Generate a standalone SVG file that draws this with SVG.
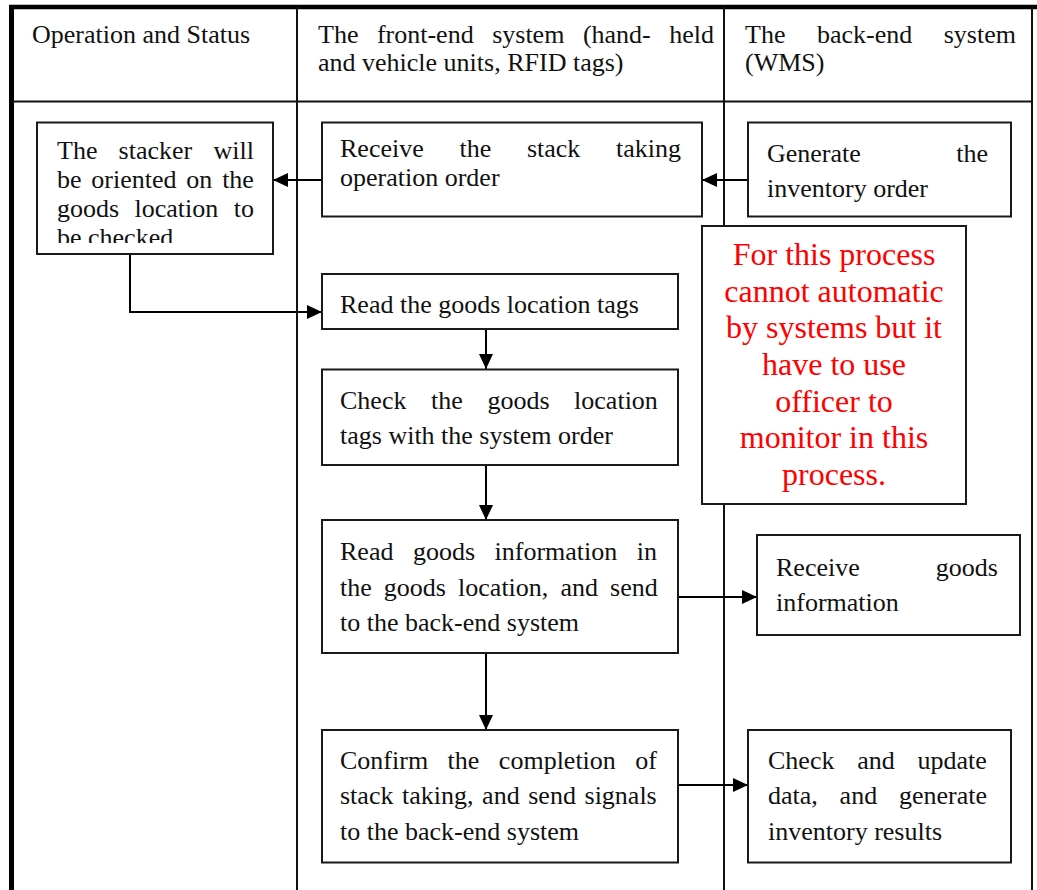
<svg xmlns="http://www.w3.org/2000/svg" width="1037" height="890" viewBox="0 0 1037 890">
  <style>
    .grid { stroke: #111; stroke-width: 2; fill: none; }
    .box { fill: #fff; stroke: #1a1a1a; stroke-width: 2; }
    .t { font-family: "Liberation Serif", "Times New Roman", serif; font-size: 26px; fill: #111; }
    .note { font-family: "Liberation Serif", "Times New Roman", serif; font-size: 32px; fill: #ff0000; text-anchor: middle; }
    .link { stroke: #000; stroke-width: 2; fill: none; marker-end: url(#arrow); }
  </style>
  <defs>
    <marker id="arrow" markerUnits="userSpaceOnUse" markerWidth="16" markerHeight="14" refX="15" refY="7" orient="auto">
      <path d="M0,0 L15,7 L0,14 Z" fill="#000"/>
    </marker>
    <clipPath id="stackerClip">
      <rect x="37" y="122" width="236" height="121"/>
    </clipPath>
  </defs>

  <rect width="1037" height="890" fill="#fff"/>

  <!-- swimlane table -->
  <g id="table">
    <line x1="9" y1="7" x2="1037" y2="7" stroke="#000" stroke-width="4.5"/>
    <line x1="11.5" y1="5" x2="11.5" y2="890" stroke="#000" stroke-width="5"/>
    <line class="grid" x1="11" y1="101.5" x2="1032" y2="101.5"/>
    <line class="grid" x1="297" y1="7" x2="297" y2="890"/>
    <line class="grid" x1="724" y1="7" x2="724" y2="890"/>
    <line class="grid" x1="1032" y1="7" x2="1032" y2="890"/>
  </g>

  <!-- lane headers -->
  <g id="header-operation">
    <text class="t" x="32" y="43">Operation and Status</text>
  </g>
  <g id="header-frontend">
    <text class="t" x="318" y="43" word-spacing="12">The front-end system (hand- held</text>
    <text class="t" x="318" y="71">and vehicle units, RFID tags)</text>
  </g>
  <g id="header-backend">
    <text class="t" x="745" y="43" word-spacing="25">The back-end system</text>
    <text class="t" x="745" y="71">(WMS)</text>
  </g>

  <!-- connectors -->
  <g id="connectors">
    <path class="link" d="M748,180 H702"/>
    <path class="link" d="M322,180 H273"/>
    <path class="link" d="M130,254 V312 H322"/>
    <path class="link" d="M486,329 V369"/>
    <path class="link" d="M486,465 V520"/>
    <path class="link" d="M678,597 H757"/>
    <path class="link" d="M486,653 V730"/>
    <path class="link" d="M678,785 H748"/>
  </g>

  <!-- operation lane -->
  <g id="node-stacker">
    <rect class="box" x="37" y="122.5" width="236" height="131.5"/>
    <g clip-path="url(#stackerClip)">
      <text class="t" x="57" y="158.5" word-spacing="14.7">The stacker will</text>
      <text class="t" x="57" y="187.5" word-spacing="3.3">be oriented on the</text>
      <text class="t" x="57" y="216.5" word-spacing="8.9">goods location to</text>
      <text class="t" x="57" y="245.5">be checked</text>
    </g>
  </g>

  <!-- front-end lane -->
  <g id="node-receive-order">
    <rect class="box" x="322" y="122.5" width="380" height="94"/>
    <text class="t" x="340" y="157" word-spacing="29.2">Receive the stack taking</text>
    <text class="t" x="340" y="186">operation order</text>
  </g>
  <g id="node-read-tags">
    <rect class="box" x="322" y="274" width="356" height="55"/>
    <text class="t" x="340" y="312.5">Read the goods location tags</text>
  </g>
  <g id="node-check-tags">
    <rect class="box" x="322" y="369.5" width="356" height="95.5"/>
    <text class="t" x="340" y="408.5" word-spacing="18.1">Check the goods location</text>
    <text class="t" x="340" y="443.5">tags with the system order</text>
  </g>
  <g id="node-read-info">
    <rect class="box" x="322" y="520" width="356" height="133"/>
    <text class="t" x="340" y="560" word-spacing="13">Read goods information in</text>
    <text class="t" x="340" y="596" word-spacing="5.6">the goods location, and send</text>
    <text class="t" x="340" y="631">to the back-end system</text>
  </g>
  <g id="node-confirm">
    <rect class="box" x="322" y="730" width="356" height="132.5"/>
    <text class="t" x="340" y="768.5" word-spacing="13">Confirm the completion of</text>
    <text class="t" x="340" y="804" word-spacing="2.1">stack taking, and send signals</text>
    <text class="t" x="340" y="839.5">to the back-end system</text>
  </g>

  <!-- back-end lane -->
  <g id="node-generate">
    <rect class="box" x="748" y="122.5" width="263" height="94"/>
    <text class="t" x="767" y="161.5" word-spacing="88.9">Generate the</text>
    <text class="t" x="767" y="197">inventory order</text>
  </g>
  <g id="node-receive-info">
    <rect class="box" x="757" y="535" width="263" height="100"/>
    <text class="t" x="776" y="576" word-spacing="69.6">Receive goods</text>
    <text class="t" x="776" y="611">information</text>
  </g>
  <g id="node-update">
    <rect class="box" x="748" y="730" width="263" height="132.5"/>
    <text class="t" x="768" y="768.5" word-spacing="16.3">Check and update</text>
    <text class="t" x="768" y="804" word-spacing="15.3">data, and generate</text>
    <text class="t" x="768" y="839.5">inventory results</text>
  </g>

  <!-- manual-monitoring remark -->
  <g id="node-remark">
    <rect class="box" x="702" y="226" width="264" height="278"/>
    <text class="note" x="834" y="265">For this process</text>
    <text class="note" x="834" y="301.7">cannot automatic</text>
    <text class="note" x="834" y="338.3">by systems but it</text>
    <text class="note" x="834" y="375">have to use</text>
    <text class="note" x="834" y="411.7">officer to</text>
    <text class="note" x="834" y="448.3">monitor in this</text>
    <text class="note" x="834" y="485">process.</text>
  </g>
</svg>
